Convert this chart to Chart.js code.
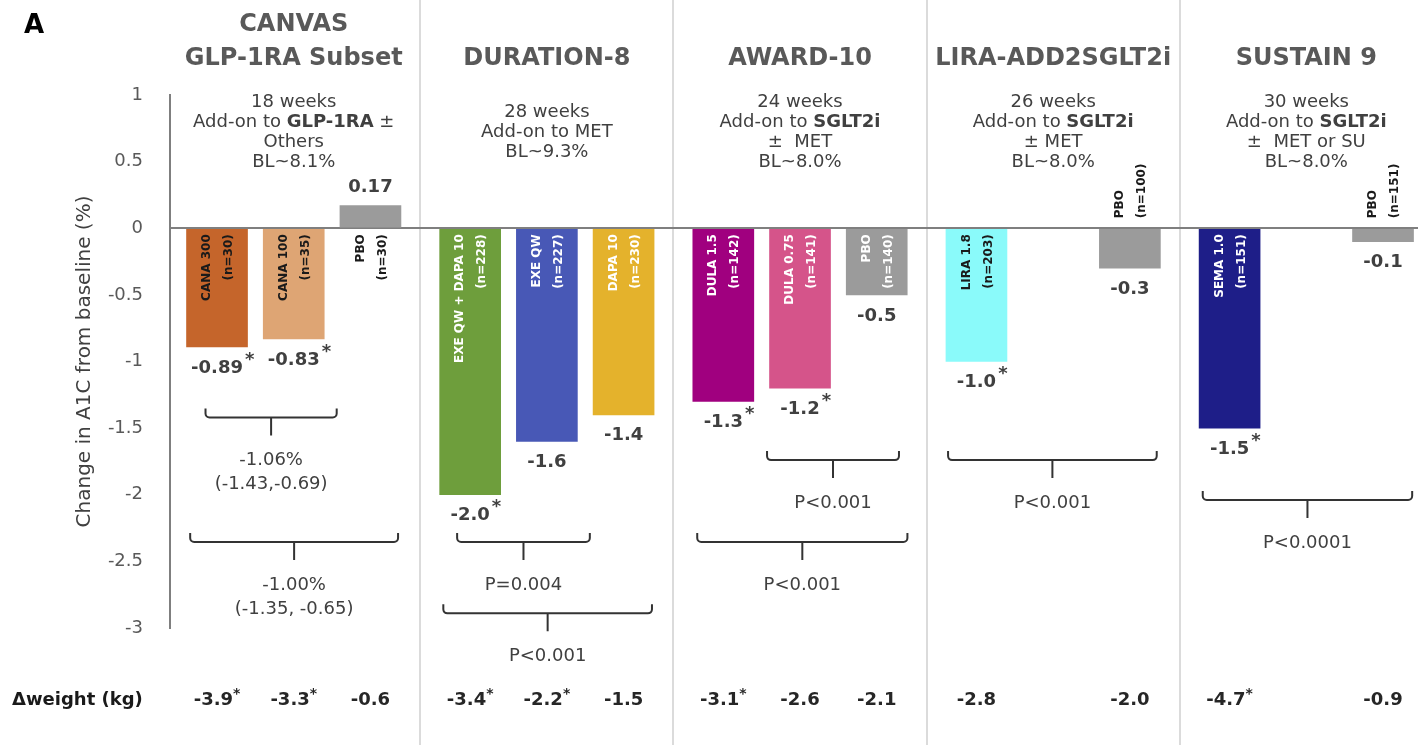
<!DOCTYPE html>
<html>
<head>
<meta charset="utf-8">
<script src="https://cdn.jsdelivr.net/npm/chart.js@4.4.1/dist/chart.umd.min.js"></script>
<style>
  html, body { margin: 0; padding: 0; background: #fff; }
  #wrap { width: 1420px; height: 745px; position: relative; }
</style>
</head>
<body>
<div id="wrap"><canvas id="chart"></canvas></div>
<script>
// studies (groups) and their descriptions
const studies = [['CANVAS', 'GLP-1RA Subset'], ['DURATION-8'], ['AWARD-10'], ['LIRA-ADD2SGLT2i'], ['SUSTAIN 9']];
const studyInfo = [
    ['18 weeks', 'Add-on to **GLP-1RA** ±', 'Others', 'BL~8.1%'],
    ['28 weeks', 'Add-on to MET', 'BL~9.3%'],
    ['24 weeks', 'Add-on to **SGLT2i**', '±  MET', 'BL~8.0%'],
    ['26 weeks', 'Add-on to **SGLT2i**', '± MET', 'BL~8.0%'],
    ['30 weeks', 'Add-on to **SGLT2i**', '±  MET or SU', 'BL~8.0%']
];

// treatment arms
const arms = ['CANA 300', 'CANA 100', 'PBO', 'EXE QW + DAPA 10', 'EXE QW', 'DAPA 10',
    'DULA 1.5', 'DULA 0.75', 'PBO', 'LIRA 1.8', 'PBO', 'SEMA 1.0', 'PBO'];
const armN = ['(n=30)', '(n=35)', '(n=30)', '(n=228)', '(n=227)', '(n=230)',
    '(n=142)', '(n=141)', '(n=140)', '(n=203)', '(n=100)', '(n=151)', '(n=151)'];
const armStudy = [0, 0, 0, 1, 1, 1, 2, 2, 2, 3, 3, 4, 4];
const armSlot = [0, 1, 2, 0, 1, 2, 0, 1, 2, 0, 2, 0, 2];

// change in A1C (%) and significance
const a1cChange = [-0.89, -0.83, 0.17, -2.0, -1.6, -1.4, -1.3, -1.2, -0.5, -1.0, -0.3, -1.5, -0.1];
const a1cSig = [1, 1, 0, 1, 0, 0, 1, 1, 0, 1, 0, 1, 0];

// change in weight (kg)
const weightChange = [-3.9, -3.3, -0.6, -3.4, -2.2, -1.5, -3.1, -2.6, -2.1, -2.8, -2.0, -4.7, -0.9];
const weightSig = [1, 1, 0, 1, 1, 0, 1, 0, 0, 0, 0, 1, 0];

const yTicks = [1, 0.5, 0, -0.5, -1, -1.5, -2, -2.5, -3];

// comparison brackets (x in slot units, y in A1C units)
const comparisons = [
    { from: -0.15, to: 1.56, y: -1.42, text: ['-1.06%', '(-1.43,-0.69)'] },
    { from: -0.35, to: 2.36, y: -2.355, text: ['-1.00%', '(-1.35, -0.65)'] },
    { from: 3.13, to: 4.86, y: -2.355, text: ['P=0.004'] },
    { from: 2.95, to: 5.67, y: -2.89, text: ['P<0.001'] },
    { from: 7.17, to: 8.89, y: -1.74, text: ['P<0.001'] },
    { from: 6.26, to: 9.0, y: -2.355, text: ['P<0.001'] },
    { from: 9.53, to: 12.25, y: -1.74, text: ['P<0.001'] },
    { from: 12.85, to: 15.58, y: -2.04, text: ['P<0.0001'] }
];

const STUDY_STEP = 3.3;
const FONT = '"DejaVu Sans"';

const barColors = ['#c5652b', '#dea574', '#9b9b9b', '#6e9e3c', '#4858b6', '#e4b22c',
    '#a0007f', '#d5548a', '#9b9b9b', '#8afafa', '#9b9b9b', '#1e1e88', '#9b9b9b'];
const armTextColors = ['#1a1a1a', '#1a1a1a', '#1a1a1a', '#fff', '#fff', '#fff',
    '#fff', '#fff', '#fff', '#1a1a1a', '#1a1a1a', '#fff', '#1a1a1a'];

function fmt(v) {
    const s = String(v);
    return s.includes('.') ? s : v.toFixed(1);
}

function drawRich(ctx, line, cx, cy, size, color) {
    const parts = line.split('**');
    let total = 0;
    parts.forEach((p, k) => {
        ctx.font = (k % 2 ? 'bold ' : '') + size + 'px ' + FONT;
        total += ctx.measureText(p).width;
    });
    let xx = cx - total / 2;
    ctx.textAlign = 'left';
    ctx.fillStyle = color;
    parts.forEach((p, k) => {
        ctx.font = (k % 2 ? 'bold ' : '') + size + 'px ' + FONT;
        ctx.fillText(p, xx, cy);
        xx += ctx.measureText(p).width;
    });
}

const overlay = {
    id: 'overlay',
    beforeDraw(chart) {
        const { ctx, scales: { x } } = chart;
        ctx.save();
        ctx.strokeStyle = '#cfcfcf';
        ctx.lineWidth = 1.5;
        for (let g = 1; g < studies.length; g++) {
            const px = Math.round(x.getPixelForValue(g * STUDY_STEP - (STUDY_STEP - 2) / 2));
            ctx.beginPath();
            ctx.moveTo(px, 0);
            ctx.lineTo(px, chart.height);
            ctx.stroke();
        }
        ctx.restore();
    },
    afterDraw(chart) {
        const { ctx, scales: { x, y } } = chart;
        const zero = y.getPixelForValue(0);
        const meta = chart.getDatasetMeta(0);
        ctx.save();
        ctx.textBaseline = 'middle';

        // panel letter
        ctx.fillStyle = '#000';
        ctx.textAlign = 'left';
        ctx.font = 'bold 26px ' + FONT;
        ctx.fillText('A', 24, 26);

        // study headers and descriptions
        studies.forEach((lines, g) => {
            const cx = x.getPixelForValue(g * STUDY_STEP + 1);
            ctx.fillStyle = '#595959';
            ctx.textAlign = 'center';
            ctx.font = 'bold 24px ' + FONT;
            lines.forEach((t, k) => {
                ctx.fillText(t, cx, 59 - (lines.length - 1 - k) * 34);
            });
            const info = studyInfo[g];
            const top = 132 - (info.length - 1) * 10;
            info.forEach((t, k) => drawRich(ctx, t, cx, top + k * 20, 18, '#404040'));
        });

        // bar labels
        meta.data.forEach((bar, i) => {
            const lines = [arms[i], armN[i]];
            ctx.font = 'bold 12px ' + FONT;
            const w = Math.max(...lines.map(t => ctx.measureText(t).width));
            const len = Math.abs(bar.y - bar.base);
            const above = a1cChange[i] < 0 && len < w + 4;
            ctx.save();
            ctx.translate(bar.x, above ? zero - 10 : zero + 6);
            ctx.rotate(-Math.PI / 2);
            ctx.textAlign = above ? 'left' : 'right';
            ctx.fillStyle = (above || a1cChange[i] > 0) ? '#1a1a1a' : armTextColors[i];
            ctx.fillText(lines[0], 0, -10);
            ctx.fillText(lines[1], 0, 12);
            ctx.restore();

            // value label
            const label = fmt(a1cChange[i]);
            const ty = a1cChange[i] < 0 ? bar.y + 21 : bar.y - 18;
            ctx.font = 'bold 18px ' + FONT;
            ctx.fillStyle = '#404040';
            ctx.textAlign = 'center';
            ctx.fillText(label, bar.x, ty);
            if (a1cSig[i]) {
                const lw = ctx.measureText(label).width;
                ctx.textAlign = 'left';
                ctx.fillText('*', bar.x + lw / 2 + 2, ty - 8);
            }

            // weight row
            const wl = weightChange[i].toFixed(1);
            ctx.font = 'bold 18px ' + FONT;
            const ww = ctx.measureText(wl).width;
            ctx.font = 'bold 14px ' + FONT;
            const sw = weightSig[i] ? ctx.measureText('*').width : 0;
            const sx = bar.x - (ww + sw) / 2;
            ctx.textAlign = 'left';
            ctx.fillStyle = '#262626';
            ctx.font = 'bold 18px ' + FONT;
            ctx.fillText(wl, sx, 700);
            if (weightSig[i]) {
                ctx.font = 'bold 14px ' + FONT;
                ctx.fillText('*', sx + ww, 694);
            }
        });

        ctx.textAlign = 'left';
        ctx.fillStyle = '#1a1a1a';
        ctx.font = 'bold 18px ' + FONT;
        ctx.fillText('Δweight (kg)', 12, 700);

        // comparison brackets
        ctx.strokeStyle = '#333';
        ctx.lineWidth = 2;
        comparisons.forEach(c => {
            const x0 = x.getPixelForValue(c.from);
            const x1 = x.getPixelForValue(c.to);
            const yl = y.getPixelForValue(c.y);
            const xm = (x0 + x1) / 2;
            ctx.beginPath();
            ctx.moveTo(x0, yl - 9);
            ctx.arcTo(x0, yl, x0 + 6, yl, 4);
            ctx.arcTo(x1, yl, x1, yl - 9, 4);
            ctx.lineTo(x1, yl - 9);
            ctx.moveTo(xm, yl);
            ctx.lineTo(xm, yl + 18);
            ctx.stroke();
            ctx.fillStyle = '#404040';
            ctx.font = '18px ' + FONT;
            ctx.textAlign = 'center';
            c.text.forEach((t, k) => ctx.fillText(t, xm, yl + 43 + k * 24));
        });
        ctx.restore();
    }
};

new Chart(document.getElementById('chart'), {
    type: 'bar',
    data: {
        datasets: [{
            data: arms.map((a, i) => ({ x: armStudy[i] * STUDY_STEP + armSlot[i], y: a1cChange[i] })),
            backgroundColor: barColors,
            borderWidth: 0,
            barThickness: 61
        }]
    },
    options: {
        responsive: true,
        maintainAspectRatio: false,
        animation: false,
        layout: { padding: { top: 95, bottom: 117, left: 0, right: 2 } },
        plugins: { legend: { display: false }, tooltip: { enabled: false } },
        scales: {
            x: { type: 'linear', display: false, min: -0.613, max: 15.656, offset: false },
            y: {
                min: -3,
                max: 1,
                z: 1,
                afterFit: s => { s.width = 170; },
                afterBuildTicks: s => { s.ticks = yTicks.map(v => ({ value: v })); },
                grid: {
                    drawTicks: false,
                    lineWidth: 2,
                    color: c => (c.tick && c.tick.value === 0 ? '#7f7f7f' : 'rgba(0,0,0,0)')
                },
                border: { color: '#7f7f7f', width: 2 },
                ticks: {
                    padding: 27,
                    color: '#595959',
                    font: { family: 'DejaVu Sans', size: 18 },
                    callback: v => String(v)
                },
                title: {
                    display: true,
                    text: 'Change in A1C from baseline (%)',
                    color: '#404040',
                    font: { family: 'DejaVu Sans', size: 20 },
                    padding: { top: 73, bottom: 0 }
                }
            }
        }
    },
    plugins: [overlay]
});
</script>
</body>
</html>
